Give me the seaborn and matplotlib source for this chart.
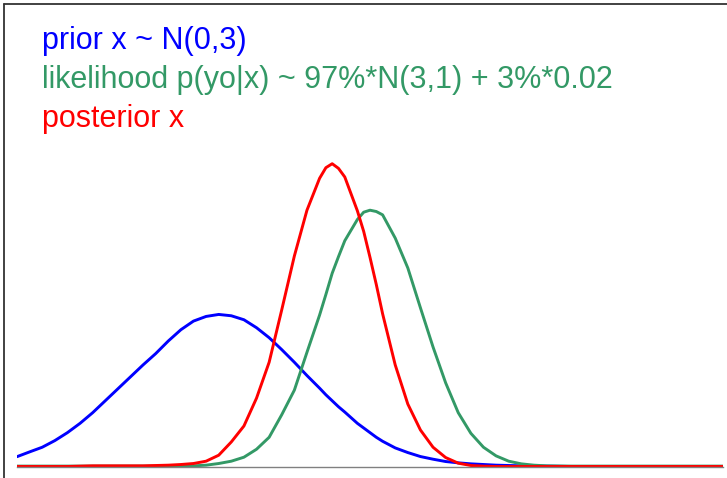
import matplotlib
matplotlib.use("Agg")
import pandas as pd
import seaborn as sns
from matplotlib import pyplot as plt
from matplotlib.lines import Line2D

# x grid (x from -4 to 10)
x_vals = [-4, -3.75, -3.5, -3.25, -3, -2.75, -2.5, -2.25, -2, -1.75, -1.5, -1.25,
          -1, -0.75, -0.5, -0.25, 0, 0.25, 0.5, 0.75, 1, 1.25, 1.5, 1.75, 2,
          2.125, 2.25, 2.375, 2.5, 2.75, 2.875, 3, 3.125, 3.25, 3.5, 3.75, 4,
          4.25, 4.5, 4.75, 5, 5.25, 5.5, 5.75, 6, 6.25, 6.5, 7, 7.5, 8, 8.5,
          9, 9.5, 10]

prior = [0.0148, 0.022, 0.029, 0.039, 0.051, 0.065, 0.081, 0.099, 0.117, 0.135,
         0.153, 0.170, 0.189, 0.206, 0.219, 0.226, 0.229, 0.227, 0.221, 0.209,
         0.194, 0.176, 0.157, 0.137, 0.118, 0.108, 0.099, 0.090, 0.082, 0.065,
         0.058, 0.051, 0.044, 0.038, 0.028, 0.021, 0.015, 0.011, 0.0075, 0.0055,
         0.004, 0.003, 0.002, 0.0015, 0.001, 0.0007, 0.0005, 0, 0, 0, 0,
         0, 0, 0]

likelihood = [0.0006, 0.0006, 0.0006, 0.0006, 0.0006, 0.0006, 0.0006, 0.0006,
              0.0006, 0.0006, 0.0006, 0.0006, 0.0006, 0.0008, 0.001, 0.002,
              0.0045, 0.008, 0.014, 0.026, 0.044, 0.078, 0.115, 0.172, 0.228,
              0.259, 0.291, 0.316, 0.340, 0.372, 0.383, 0.386, 0.384, 0.379,
              0.344, 0.299, 0.239, 0.180, 0.126, 0.081, 0.050, 0.029, 0.016,
              0.008, 0.004, 0.002, 0.001, 0.0006, 0.0006, 0.0006, 0.0006,
              0.0006, 0.0006, 0.0006]

posterior = [0, 0, 0, 0, 0, 0.0005, 0.001, 0.001, 0.001, 0.001, 0.001, 0.0015,
             0.002, 0.003, 0.0045, 0.008, 0.017, 0.037, 0.061, 0.103, 0.157,
             0.236, 0.317, 0.386, 0.434, 0.450, 0.456, 0.449, 0.436, 0.385,
             0.354, 0.315, 0.274, 0.230, 0.153, 0.094, 0.055, 0.029, 0.0135,
             0.005, 0.0015, 0.0005, 0, 0, 0, 0, 0, 0, 0, 0, 0, 0, 0, 0]

labels = ["prior x ~ N(0,3)",
          "likelihood p(yo|x) ~ 97%*N(3,1) + 3%*0.02",
          "posterior x"]
colors = ["#0000FF", "#339966", "#FF0000"]

df = pd.concat([
    pd.DataFrame({"x": x_vals, "density": prior, "curve": "prior"}),
    pd.DataFrame({"x": x_vals, "density": likelihood, "curve": "likelihood"}),
    pd.DataFrame({"x": x_vals, "density": posterior, "curve": "posterior"}),
])

sns.set_style("white")
plt.rcParams['font.family'] = ['Liberation Sans', 'DejaVu Sans']

W, H = 727, 478
fig = plt.figure(figsize=(W / 100, H / 100), dpi=100)
ax = fig.add_axes([17 / W, 11.5 / H, 706 / W, 332 / H])

sns.lineplot(data=df, x="x", y="density", hue="curve",
             palette=dict(zip(["prior", "likelihood", "posterior"], colors)),
             linewidth=2.1, legend=False, ax=ax)
for line in ax.lines:
    line.set_solid_joinstyle("round")

ax.set_xlim(-4, 10)
ax.set_ylim(0, 0.5)
ax.set_xticks([])
ax.set_yticks([])
ax.set_xlabel("")
ax.set_ylabel("")
for side in ["top", "right", "left"]:
    ax.spines[side].set_visible(False)
ax.spines["bottom"].set_color("#808080")
ax.spines["bottom"].set_linewidth(1.0)
ax.set_facecolor("none")

# frame of the original screenshot (top and left edges)
fig.add_artist(Line2D([4 / W, 1], [1 - 4 / H, 1 - 4 / H], transform=fig.transFigure,
                      color="#333333", linewidth=1.3))
fig.add_artist(Line2D([4 / W, 4 / W], [0, 1 - 4 / H], transform=fig.transFigure,
                      color="#333333", linewidth=1.3))

baselines = [49.5, 88, 127]
for label, color, yb in zip(labels, colors, baselines):
    fig.text(42 / W, 1 - yb / H, label, color=color, fontsize=22,
             ha="left", va="baseline")

fig.savefig("out.png", dpi=100)
